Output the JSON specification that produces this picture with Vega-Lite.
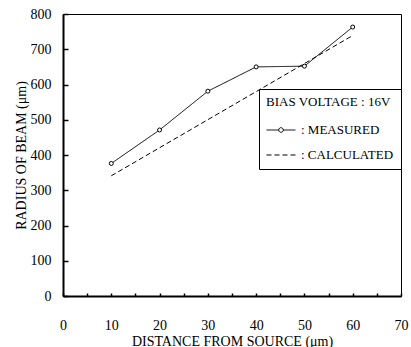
{
  "$schema": "https://vega.github.io/schema/vega-lite/v6.json",
  "width": 338,
  "height": 282,
  "autosize": {"type": "none"},
  "padding": {"left": 63, "top": 14, "right": 10, "bottom": 51},
  "background": "white",
  "view": {"stroke": "black", "strokeWidth": 1},
  "data": {
    "values": [
      {"distance": 10, "radius": 376, "series": "MEASURED"},
      {"distance": 20, "radius": 471, "series": "MEASURED"},
      {"distance": 30, "radius": 581, "series": "MEASURED"},
      {"distance": 40, "radius": 650, "series": "MEASURED"},
      {"distance": 50, "radius": 652, "series": "MEASURED"},
      {"distance": 60, "radius": 763, "series": "MEASURED"},
      {"distance": 10, "radius": 341, "series": "CALCULATED"},
      {"distance": 60, "radius": 739, "series": "CALCULATED"}
    ]
  },
  "encoding": {
    "x": {
      "field": "distance",
      "type": "quantitative",
      "scale": {"domain": [0, 70], "nice": false},
      "axis": {
        "title": "DISTANCE FROM SOURCE (μm)",
        "values": [0, 5, 10, 15, 20, 25, 30, 35, 40, 45, 50, 55, 60, 65, 70],
        "labelExpr": "datum.value % 10 === 0 ? datum.label : ''",
        "tickSize": -3,
        "grid": false,
        "domainColor": "black",
        "domainWidth": 2,
        "tickColor": "black",
        "tickWidth": 1.5,
        "labelColor": "black",
        "labelFontSize": 14,
        "labelFont": "Liberation Serif",
        "labelFlush": false,
        "labelOverlap": false,
        "labelPadding": 25,
        "titleColor": "black",
        "titleFontSize": 14,
        "titleFont": "Liberation Serif",
        "titleFontWeight": "normal",
        "titlePadding": 2
      }
    },
    "y": {
      "field": "radius",
      "type": "quantitative",
      "scale": {"domain": [0, 800], "nice": false},
      "axis": {
        "title": "RADIUS OF BEAM (μm)",
        "values": [0, 100, 200, 300, 400, 500, 600, 700, 800],
        "tickSize": -5,
        "grid": false,
        "domainColor": "black",
        "domainWidth": 2,
        "tickColor": "black",
        "tickWidth": 1.5,
        "labelColor": "black",
        "labelFontSize": 14,
        "labelFont": "Liberation Serif",
        "labelFlush": false,
        "labelOverlap": false,
        "labelPadding": 17,
        "titleColor": "black",
        "titleFontSize": 14,
        "titleFont": "Liberation Serif",
        "titleFontWeight": "normal",
        "titlePadding": 2
      }
    }
  },
  "layer": [
    {
      "mark": {"type": "line", "color": "black", "strokeWidth": 1},
      "encoding": {
        "strokeDash": {
          "field": "series",
          "type": "nominal",
          "scale": {"domain": ["MEASURED", "CALCULATED"], "range": [[1, 0], [5, 3]]},
          "legend": {
            "title": "BIAS VOLTAGE : 16V",
            "orient": "none",
            "legendX": 196,
            "legendY": 75,
            "direction": "vertical",
            "fillColor": "white",
            "strokeColor": "black",
            "padding": 7,
            "titleFont": "Liberation Serif",
            "titleFontSize": 13,
            "titleFontWeight": "normal",
            "titleColor": "black",
            "titlePadding": 6,
            "labelFont": "Liberation Serif",
            "labelFontSize": 13,
            "labelColor": "black",
            "labelExpr": "': ' + datum.label",
            "symbolSize": 841,
            "symbolStrokeColor": "black",
            "symbolStrokeWidth": 1,
            "symbolFillColor": "white",
            "symbolOffset": 0,
            "labelOffset": 5,
            "rowPadding": 3,
            "symbolType": "M-1,0H1",
            "encode": {
              "symbols": {
                "update": {
                  "shape": {"signal": "datum.label === 'MEASURED' ? 'M-1,0H-0.16M0.16,0H1M-0.16,0A0.16,0.16,0,1,1,0.16,0A0.16,0.16,0,1,1,-0.16,0Z' : 'M-1,0H1'"}
                }
              }
            }
          }
        }
      }
    },
    {
      "transform": [{"filter": "datum.series === 'MEASURED'"}],
      "mark": {"type": "point", "shape": "circle", "size": 16, "filled": true, "fill": "white", "stroke": "black", "strokeWidth": 1, "opacity": 1}
    }
  ]
}
